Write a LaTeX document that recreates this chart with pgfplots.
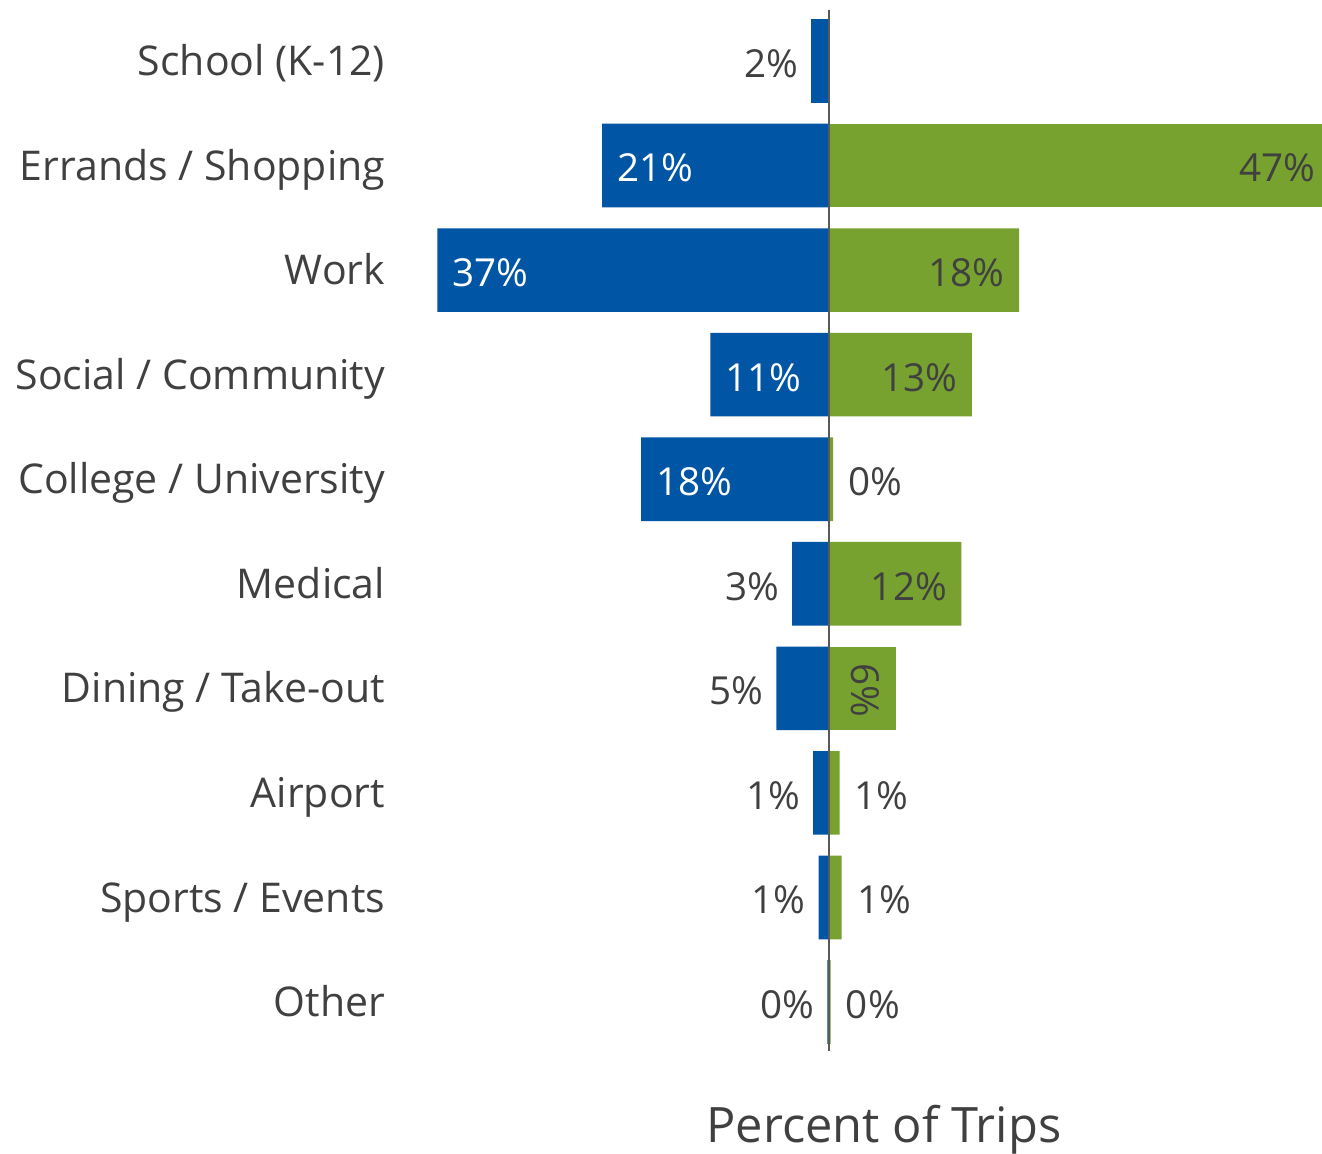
\documentclass[border=0pt]{standalone}
\usepackage{fontspec}
\setmainfont{Open Sans}
\usepackage{pgfplots}
\pgfplotsset{compat=1.18}
\definecolor{barblue}{HTML}{0055A5}
\definecolor{bargreen}{HTML}{78A22F}
\definecolor{txt}{HTML}{404040}
\definecolor{midline}{HTML}{595959}
\begin{document}
\begin{tikzpicture}
\useasboundingbox (0,0) rectangle (661pt,576.5pt);
\begin{axis}[
  at={(218.5pt,49.36pt)}, anchor=south west,
  scale only axis, width=442.5pt, height=522.8pt,
  xmin=-37.33, xmax=46.95, ymin=-0.5, ymax=9.5, y dir=reverse,
  xbar, bar shift=0pt, bar width=0.8,
  axis line style={draw=none}, tick style={draw=none},
  xtick=\empty, ytick={0,...,9},
  yticklabels={School (K-12), Errands / Shopping, Work, Social / Community, College / University, Medical, Dining / Take-out, Airport, Sports / Events, Other},
  yticklabel style={font=\fontsize{20.5}{24}\selectfont, text=txt, anchor=base east, inner sep=0pt, xshift=-21.5pt, yshift=-7.3pt},
  xlabel={Percent of Trips},
  xlabel style={font=\fontsize{24.4}{28}\selectfont, text=txt, at={(axis description cs:0.505,0)}, anchor=base, yshift=-44pt},
  point meta=explicit symbolic,
  nodes near coords={\pgfplotspointmeta\%},
  every node near coord/.append style={font=\fontsize{19.3}{23}\selectfont, inner sep=0pt},
  clip=false,
]
% blue, label inside (white)
\addplot[fill=barblue, draw=none, nodes near coords align={anchor=base west},
  every node near coord/.append style={text=white, xshift=7.5pt, yshift=-8.2pt}]
  coordinates {(-21.6,1) [21] (-37.3,2) [37] (-11.3,3) [11] (-17.9,4) [18]};
% blue, label outside (gray)
\addplot[fill=barblue, draw=none, nodes near coords align={anchor=base east},
  every node near coord/.append style={text=txt, xshift=-6.3pt, yshift=-8.2pt}]
  coordinates {(-1.7,0) [2] (-3.5,5) [3] (-5.0,6) [5] (-1.5,7) [1] (-1.0,8) [1] (-0.15,9) [0]};
% green, label inside
\addplot[fill=bargreen, draw=none, nodes near coords align={anchor=base east},
  every node near coord/.append style={text=txt, xshift=-7pt, yshift=-8.2pt}]
  coordinates {(18.1,2) [18] (13.6,3) [13] (12.6,5) [12]};
\addplot[fill=bargreen, draw=none, nodes near coords align={anchor=base east},
  every node near coord/.append style={text=txt, xshift=-3pt, yshift=-8.2pt}]
  coordinates {(46.95,1) [47]};
% green, rotated label
\addplot[fill=bargreen, draw=none, nodes near coords align={anchor=center},
  every node near coord/.append style={text=txt, rotate=-90, yshift=-15.25pt, xshift=1pt}]
  coordinates {(6.4,6) [6]};
% green, label outside
\addplot[fill=bargreen, draw=none, nodes near coords align={anchor=base west},
  every node near coord/.append style={text=txt, xshift=7.5pt, yshift=-8.2pt}]
  coordinates {(0.4,4) [0] (1.0,7) [1] (1.2,8) [1] (0.15,9) [0]};
\draw[midline, line width=1.2pt] (axis cs:0,-0.49) -- (axis cs:0,9.47);
\end{axis}
\end{tikzpicture}
\end{document}
